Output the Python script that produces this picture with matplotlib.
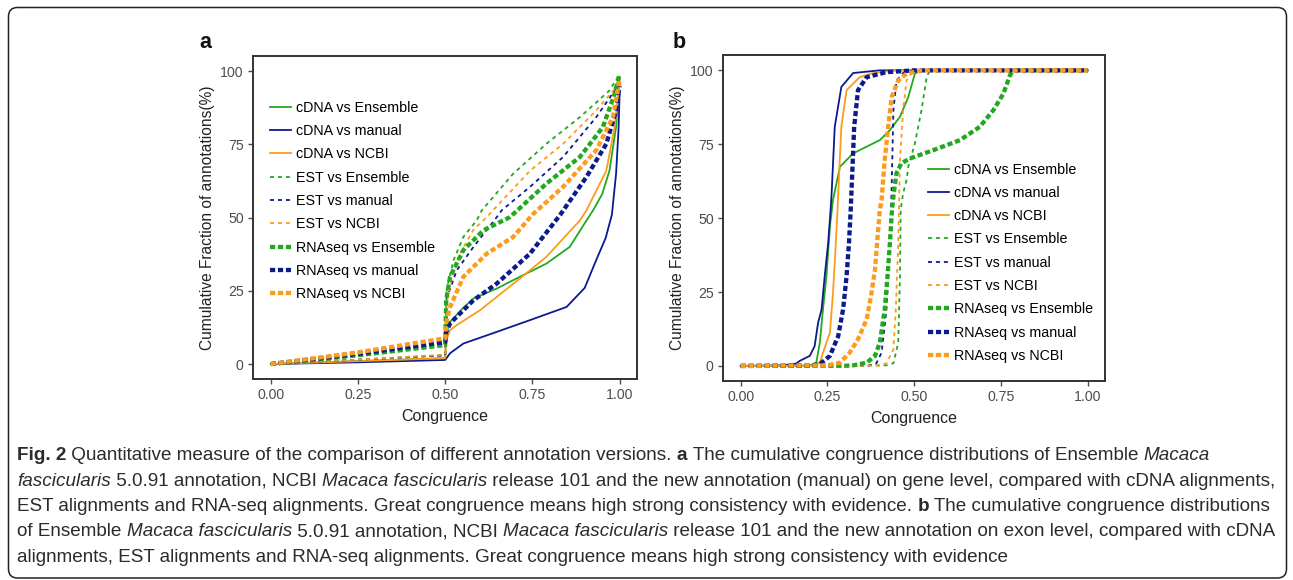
import matplotlib
matplotlib.use("Agg")
import matplotlib.pyplot as plt
from matplotlib import font_manager
from matplotlib.patches import FancyBboxPatch
from matplotlib.transforms import IdentityTransform

# ---- data ----
# panel a (gene level)
cdna_ens_a_x = [0, 0.25, 0.5, 0.502, 0.514, 0.55, 0.581, 0.648, 0.714, 0.79, 0.857, 0.905, 0.924, 0.95, 0.971, 0.99, 1.0]
cdna_ens_a_y = [0, 1.0, 2.0, 10, 14.4, 19, 22.4, 25.8, 29.8, 34.3, 40, 49, 52.5, 58, 66, 81, 98]
cdna_man_a_x = [0, 0.25, 0.5, 0.514, 0.552, 0.648, 0.743, 0.848, 0.9, 0.933, 0.96, 0.978, 0.99, 0.997, 1.0]
cdna_man_a_y = [0, 0.6, 1.4, 3.7, 7, 11, 15, 19.5, 26, 35.5, 43, 51, 65, 80, 92]
cdna_ncbi_a_x = [0, 0.25, 0.5, 0.503, 0.514, 0.533, 0.6, 0.714, 0.79, 0.886, 0.905, 0.962, 0.986, 1.0]
cdna_ncbi_a_y = [0, 1.0, 2.0, 8, 11.6, 13.3, 18.4, 29.2, 36.6, 49, 52.5, 66, 81, 97]
est_ens_a_x = [0, 0.25, 0.5, 0.503, 0.505, 0.524, 0.552, 0.59, 0.605, 0.695, 0.79, 0.886, 0.971, 1.0]
est_ens_a_y = [0, 1.5, 3, 18, 26, 35.5, 43.4, 49, 52.5, 65, 75.2, 84.3, 93.4, 99]
est_man_a_x = [0, 0.25, 0.5, 0.503, 0.533, 0.581, 0.648, 0.662, 0.743, 0.838, 0.933, 0.986, 1.0]
est_man_a_y = [0, 1.5, 3, 22, 32, 40, 50.2, 52.5, 60.5, 70.7, 84.3, 93.4, 98]
est_ncbi_a_x = [0, 0.25, 0.5, 0.503, 0.52, 0.543, 0.58, 0.619, 0.743, 0.838, 0.933, 0.99, 1.0]
est_ncbi_a_y = [0, 1.5, 3.2, 20, 30, 37.8, 45.7, 50.2, 66, 75.2, 86.6, 94.5, 98.5]
rna_ens_a_x = [0, 0.25, 0.5, 0.503, 0.514, 0.552, 0.61, 0.686, 0.79, 0.886, 0.952, 0.986, 1.0]
rna_ens_a_y = [0, 3, 6.5, 22, 29.8, 38.9, 45.7, 50.2, 61.6, 70.7, 80.9, 92.3, 99]
rna_man_a_x = [0, 0.25, 0.5, 0.503, 0.514, 0.581, 0.648, 0.743, 0.83, 0.905, 0.962, 0.99, 1.0]
rna_man_a_y = [0, 3.5, 7.5, 11, 13.9, 21.8, 27.5, 37.7, 51, 63.9, 75.2, 86.6, 95]
rna_ncbi_a_x = [0, 0.25, 0.5, 0.503, 0.514, 0.552, 0.619, 0.695, 0.75, 0.838, 0.933, 0.981, 1.0]
rna_ncbi_a_y = [0, 4, 8.8, 14, 19.5, 29.8, 37.7, 43.4, 51, 60.5, 73, 84.3, 97]

# panel b (exon level)
cdna_ens_b_x = [0, 0.2, 0.218, 0.228, 0.237, 0.247, 0.257, 0.266, 0.286, 0.324, 0.363, 0.401, 0.43, 0.459, 0.483, 0.502, 0.52, 1.0]
cdna_ens_b_y = [0, 0.1, 1.2, 7.9, 19.1, 30.3, 47.2, 56.2, 67.4, 71.9, 74.2, 76.4, 79.8, 84.3, 91, 98.9, 100, 100]
cdna_man_b_x = [0, 0.12, 0.16, 0.17, 0.199, 0.213, 0.223, 0.233, 0.242, 0.252, 0.259, 0.262, 0.271, 0.29, 0.324, 0.4, 1.0]
cdna_man_b_y = [0, 0.2, 0.8, 1.7, 3.4, 6.7, 14.6, 19.1, 30.3, 41.6, 52.8, 58.4, 80.9, 94.4, 99.1, 100, 100]
cdna_ncbi_b_x = [0, 0.21, 0.228, 0.247, 0.257, 0.266, 0.274, 0.279, 0.281, 0.29, 0.305, 0.343, 0.382, 0.45, 1.0]
cdna_ncbi_b_y = [0, 0.1, 1.2, 7.9, 11.2, 24.7, 41.6, 52.8, 58.4, 80.9, 93.3, 97.7, 99.1, 100, 100]
est_ens_b_x = [0, 0.42, 0.44, 0.454, 0.459, 0.461, 0.468, 0.478, 0.483, 0.502, 0.521, 0.536, 0.545, 1.0]
est_ens_b_y = [0, 0.2, 0.9, 7.9, 30.3, 52.8, 58.4, 62.9, 67.4, 75.3, 86.5, 97.7, 100, 100]
est_man_b_x = [0, 0.37, 0.391, 0.406, 0.42, 0.43, 0.435, 0.44, 0.449, 0.468, 0.5, 1.0]
est_man_b_y = [0, 0.1, 0.9, 4.5, 19.1, 41.6, 60, 86.5, 96.6, 99.1, 100, 100]
est_ncbi_b_x = [0, 0.4, 0.42, 0.44, 0.447, 0.454, 0.459, 0.468, 0.478, 0.492, 0.52, 1.0]
est_ncbi_b_y = [0, 0.1, 0.9, 5.6, 19.1, 41.6, 69.7, 86.5, 96.6, 99.1, 100, 100]
rna_ens_b_x = [0, 0.3, 0.324, 0.363, 0.387, 0.401, 0.415, 0.423, 0.43, 0.436, 0.441, 0.449, 0.463, 0.49, 0.555, 0.632, 0.689, 0.728, 0.757, 0.776, 0.785, 1.0]
rna_ens_b_y = [0, 0.05, 0.2, 1.1, 3.4, 7.9, 19.1, 30.3, 41.6, 52.8, 58.4, 65.2, 68.6, 70.3, 73, 76.4, 80.9, 86.5, 92.1, 98.3, 100, 100]
rna_man_b_x = [0, 0.2, 0.228, 0.257, 0.281, 0.295, 0.305, 0.312, 0.317, 0.319, 0.327, 0.338, 0.363, 0.42, 0.5, 1.0]
rna_man_b_y = [0, 0.1, 0.6, 3.4, 10.1, 19.1, 30.3, 41.6, 52.8, 58.4, 80.9, 93.3, 97.7, 99.4, 100, 100]
rna_ncbi_b_x = [0, 0.25, 0.286, 0.314, 0.338, 0.363, 0.377, 0.387, 0.393, 0.401, 0.406, 0.415, 0.425, 0.435, 0.454, 0.478, 0.52, 1.0]
rna_ncbi_b_y = [0, 0.2, 1.1, 4.5, 9, 15.7, 24.7, 32.6, 41.6, 52.8, 56.2, 69.7, 80.9, 91, 96.6, 98.9, 100, 100]

labels = ["cDNA vs Ensemble", "cDNA vs manual", "cDNA vs NCBI",
          "EST vs Ensemble", "EST vs manual", "EST vs NCBI",
          "RNAseq vs Ensemble", "RNAseq vs manual", "RNAseq vs NCBI"]
x_ticks = [0, 0.25, 0.5, 0.75, 1.0]
x_ticklabels = ["0.00", "0.25", "0.50", "0.75", "1.00"]
y_ticks = [0, 25, 50, 75, 100]

series_a = [(cdna_ens_a_x, cdna_ens_a_y), (cdna_man_a_x, cdna_man_a_y), (cdna_ncbi_a_x, cdna_ncbi_a_y),
            (est_ens_a_x, est_ens_a_y), (est_man_a_x, est_man_a_y), (est_ncbi_a_x, est_ncbi_a_y),
            (rna_ens_a_x, rna_ens_a_y), (rna_man_a_x, rna_man_a_y), (rna_ncbi_a_x, rna_ncbi_a_y)]
series_b = [(cdna_ens_b_x, cdna_ens_b_y), (cdna_man_b_x, cdna_man_b_y), (cdna_ncbi_b_x, cdna_ncbi_b_y),
            (est_ens_b_x, est_ens_b_y), (est_man_b_x, est_man_b_y), (est_ncbi_b_x, est_ncbi_b_y),
            (rna_ens_b_x, rna_ens_b_y), (rna_man_b_x, rna_man_b_y), (rna_ncbi_b_x, rna_ncbi_b_y)]

GREEN, BLUE, ORANGE = "#22a81e", "#0b1a8e", "#fd9b1b"
colors = [GREEN, BLUE, ORANGE] * 3
styles = [("-", 1.3)] * 3 + [((0, (2.2, 2.2)), 1.3)] * 3 + [((0, (1.2, 0.65)), 3.1)] * 3

plt.rcParams["font.family"] = ["Liberation Sans", "DejaVu Sans"]

W, H = 1293, 580
fig = plt.figure(figsize=(W / 100, H / 100), dpi=100)
fig.patch.set_facecolor("white")


def draw_panel(rect, series, leg_anchor, letter, letter_x):
    ax = fig.add_axes(rect)
    for (xs, ys), c, (ls, lw), lab in zip(series, colors, styles, labels):
        ax.plot(xs, ys, color=c, linestyle=ls, linewidth=lw, label=lab,
                solid_joinstyle="round")
    ax.set_xlim(-0.052, 1.05)
    ax.set_ylim(-5.1, 105.2)
    ax.set_xticks(x_ticks)
    ax.set_xticklabels(x_ticklabels)
    ax.set_yticks(y_ticks)
    ax.tick_params(labelsize=10.2, labelcolor="#4d4d4d", color="#4d4d4d",
                   length=3.5, width=1.0, pad=3)
    for sp in ax.spines.values():
        sp.set_linewidth(1.4)
        sp.set_color("#333333")
    ax.set_xlabel("Congruence", fontsize=11.5, color="#222222", labelpad=5)
    ax.set_ylabel("Cumulative Fraction of annotations(%)", fontsize=11.2,
                  color="#222222", labelpad=4)
    ax.legend(loc="upper left", bbox_to_anchor=leg_anchor, frameon=False,
              fontsize=10.3, handlelength=1.5, handletextpad=0.33,
              labelspacing=0.65, borderpad=0, borderaxespad=0)
    fig.text(letter_x / W, 1 - 48 / H, letter, fontsize=15.5,
             fontweight="bold", ha="left", va="baseline", color="#111111")
    return ax


draw_panel([252.7 / W, 1 - 379 / H, 384.3 / W, 323 / H], series_a,
           (0.045, 0.861), "a", 199)
draw_panel([722.7 / W, 1 - 381 / H, 382.3 / W, 326 / H], series_b,
           (0.537, 0.670), "b", 673)

# ---- caption ----
names = {f.name for f in font_manager.fontManager.ttflist}
capfont = "Liberation Sans Narrow" if "Liberation Sans Narrow" in names else "Liberation Sans"

N, B, I = ("normal", "normal"), ("bold", "normal"), ("normal", "italic")
caption = [
    [("Fig. 2", B), (" Quantitative measure of the comparison of different annotation versions. ", N),
     ("a", B), (" The cumulative congruence distributions of Ensemble ", N), ("Macaca", I)],
    [("fascicularis", I), (" 5.0.91 annotation, NCBI ", N), ("Macaca fascicularis", I),
     (" release 101 and the new annotation (manual) on gene level, compared with cDNA alignments,", N)],
    [("EST alignments and RNA-seq alignments. Great congruence means high strong consistency with evidence. ", N),
     ("b", B), (" The cumulative congruence distributions", N)],
    [("of Ensemble ", N), ("Macaca fascicularis", I), (" 5.0.91 annotation, NCBI ", N),
     ("Macaca fascicularis", I), (" release 101 and the new annotation on exon level, compared with cDNA", N)],
    [("alignments, EST alignments and RNA-seq alignments. Great congruence means high strong consistency with evidence", N)],
]
cap_y = [455, 481, 506.5, 532, 557.5]
cap_x0 = 17
renderer = fig.canvas.get_renderer()


def run_width(s, style, size):
    w, st = style
    t1 = fig.text(0, 0, "|" + s + "|", fontsize=size, fontweight=w, fontstyle=st, family=capfont)
    t2 = fig.text(0, 0, "||", fontsize=size, fontweight=w, fontstyle=st, family=capfont)
    d = t1.get_window_extent(renderer).width - t2.get_window_extent(renderer).width
    t1.remove()
    t2.remove()
    return d


base = 12.0
line3_w = sum(run_width(s, st, base) for s, st in caption[2])
cap_size = base * (1275 - cap_x0) / line3_w

for runs, yy in zip(caption, cap_y):
    x = cap_x0
    for s, st in runs:
        fig.text(x / W, 1 - yy / H, s, fontsize=cap_size, fontweight=st[0],
                 fontstyle=st[1], family=capfont, ha="left", va="center",
                 color="#2b2b2b")
        x += run_width(s, st, cap_size)

# rounded frame round the whole figure
frame = FancyBboxPatch((8.5, 2), 1278, 570.5, boxstyle="round,pad=0,rounding_size=9",
                       transform=IdentityTransform(), fill=False,
                       edgecolor="#222222", linewidth=1.1)
fig.add_artist(frame)

fig.savefig("out.png", dpi=100, facecolor="white")
